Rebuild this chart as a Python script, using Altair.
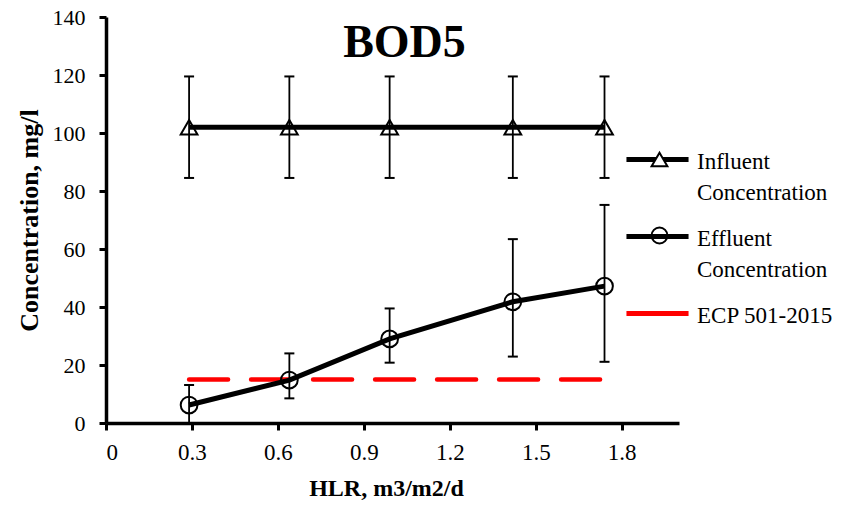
import altair as alt
import pandas as pd

# Hydraulic loading rates (m3/m2/d)
hlr = [0.29, 0.64, 0.99, 1.42, 1.74]

# BOD5 influent: mean and error-bar ends (mg/l)
influent = [102, 102, 102, 102, 102]
influent_lo = [84.5, 84.5, 84.5, 84.5, 84.5]
influent_hi = [119.5, 119.5, 119.5, 119.5, 119.5]

# BOD5 effluent: mean and error-bar ends (mg/l)
effluent = [6.2, 14.8, 29.0, 41.8, 47.2]
effluent_lo = [0.0, 8.5, 20.8, 22.9, 21.1]
effluent_hi = [13.1, 24.0, 39.5, 63.4, 75.2]

# Egyptian code limit line
ecp_x = [0.29, 1.74]
ecp_limit = [15, 15]

series = ["Influent Concentration", "Effluent Concentration", "ECP 501-2015"]
x_ticks = [0, 0.3, 0.6, 0.9, 1.2, 1.5, 1.8]
y_ticks = [0, 20, 40, 60, 80, 100, 120, 140]

measured = pd.concat([
    pd.DataFrame({"series": series[0], "hlr": hlr, "conc": influent,
                  "lo": influent_lo, "hi": influent_hi}),
    pd.DataFrame({"series": series[1], "hlr": hlr, "conc": effluent,
                  "lo": effluent_lo, "hi": effluent_hi}),
], ignore_index=True)
measured["marker"] = measured["series"]

limit = pd.DataFrame({"series": series[2], "hlr": ecp_x, "conc": ecp_limit})

SERIF = "Liberation Serif"
# two text lines per legend entry so that every row has the same height
label_split = ("datum.label == 'ECP 501-2015' ? [datum.label, ' '] "
               ": split(datum.label, ' ')")
blank_two_lines = "[' ', ' ']"

x_enc = alt.X("hlr:Q", scale=alt.Scale(domain=[0, 2.0], nice=False),
              axis=alt.Axis(values=x_ticks, format=".1~f", title="HLR, m3/m2/d",
                            labelFontSize=23, titlePadding=12, labelPadding=11,
                            titleX=280))
y_enc = alt.Y("conc:Q", scale=alt.Scale(domain=[0, 140], nice=False),
              axis=alt.Axis(values=y_ticks, format="d", title="Concentration, mg/l",
                            titleFontSize=26, titlePadding=10, labelPadding=14))

LEG_X, LEG_Y = 534, 134

legend_common = dict(orient="none", title=None, padding=0,
                     labelFont=SERIF, labelFontSize=23,
                     labelColor="black", labelBaseline="alphabetic",
                     rowPadding=21, labelLimit=300, labelOffset=22)

color_scale = alt.Scale(domain=series, range=["black", "black", "#ff0000"])
# line swatch: 62 px long, raised 9 px above the first label baseline
line_legend = alt.Legend(symbolType="M-2.07,-0.6H2.07", symbolSize=900,
                         symbolStrokeWidth=5, labelExpr=label_split,
                         legendX=LEG_X, legendY=LEG_Y, **legend_common)
# marker swatches laid over the line swatches (blank labels keep the row pitch)
marker_legend = alt.Legend(symbolSize=250, symbolStrokeWidth=2,
                           symbolFillColor="white", symbolStrokeColor="black",
                           labelExpr=blank_two_lines,
                           legendX=LEG_X + 8, legendY=LEG_Y - 3, **legend_common)

points = alt.Chart(measured).mark_point(size=280, strokeWidth=2, color="black",
                                        opacity=1).encode(
    x=x_enc, y=y_enc,
    shape=alt.Shape("marker:N",
                    scale=alt.Scale(domain=series[:2], range=["triangle-up", "circle"]),
                    legend=marker_legend),
    fill=alt.Fill("marker:N",
                  scale=alt.Scale(domain=series[:2], range=["white", "transparent"]),
                  legend=None),
)

lines = alt.Chart(measured).mark_line(strokeWidth=5).encode(
    x=x_enc, y=y_enc,
    color=alt.Color("series:N", scale=color_scale, legend=line_legend),
)

limit_line = alt.Chart(limit).mark_line(strokeWidth=4.5, strokeDash=[39, 23],
                                        strokeCap="round").encode(
    x=x_enc, y=y_enc,
    color=alt.Color("series:N", scale=color_scale, legend=line_legend),
)

bars = alt.Chart(measured).mark_rule(color="black", strokeWidth=1.8).encode(
    x=x_enc, y="lo:Q", y2="hi:Q")
caps_lo = alt.Chart(measured).mark_tick(orient="horizontal", color="black", size=10,
                                        thickness=2, opacity=1).encode(x=x_enc, y="lo:Q")
caps_hi = alt.Chart(measured).mark_tick(orient="horizontal", color="black", size=10,
                                        thickness=2, opacity=1).encode(x=x_enc, y="hi:Q")

chart = alt.layer(limit_line, points, lines, bars, caps_lo, caps_hi).properties(
    width=573, height=406,
    title=alt.TitleParams("BOD5", font=SERIF, fontSize=46, fontWeight="bold",
                          color="black", anchor="middle", baseline="alphabetic",
                          offset=0, dy=97, dx=12),
    autosize=alt.AutoSizeParams(type="none"),
    padding={"left": 106, "top": 17, "right": 180, "bottom": 82},
    background="white",
).configure(
    style={"guide-label": {"lineHeight": 31}},
).configure_view(stroke=None).configure_axis(
    grid=False, domainColor="black", domainWidth=3.5, tickColor="black", tickWidth=3,
    tickSize=7, labelFont=SERIF, labelFontSize=22, labelColor="black",
    titleFont=SERIF, titleFontSize=24, titleFontWeight="bold", titleColor="black",
)

chart.save("out.html", embed_options={"renderer": "svg", "actions": False})
